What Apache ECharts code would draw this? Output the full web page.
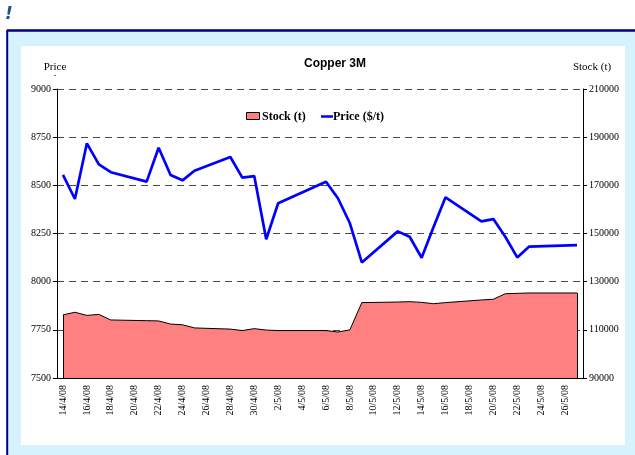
<!DOCTYPE html>
<html>
<head>
<meta charset="utf-8">
<script src="https://cdn.jsdelivr.net/npm/echarts@6/dist/echarts.min.js"></script>
<style>
  html, body { margin: 0; padding: 0; background: #fff; }
  #chartmain { width: 635px; height: 455px; }
</style>
</head>
<body>
<div id="chartmain"></div>
<script>
// dates, one per day (weekends / holidays carry no value)
var days = [
  '14/4/08', '15/4/08', '16/4/08', '17/4/08', '18/4/08', '19/4/08', '20/4/08',
  '21/4/08', '22/4/08', '23/4/08', '24/4/08', '25/4/08', '26/4/08', '27/4/08',
  '28/4/08', '29/4/08', '30/4/08', '1/5/08', '2/5/08', '3/5/08', '4/5/08',
  '5/5/08', '6/5/08', '7/5/08', '8/5/08', '9/5/08', '10/5/08', '11/5/08',
  '12/5/08', '13/5/08', '14/5/08', '15/5/08', '16/5/08', '17/5/08', '18/5/08',
  '19/5/08', '20/5/08', '21/5/08', '22/5/08', '23/5/08', '24/5/08', '25/5/08',
  '26/5/08', '27/5/08'
];
// price $/t
var price = [
  8554, 8429, 8718, 8609, 8568, null, null,
  8519, 8695, 8554, 8526, 8576, null, null,
  8647, 8540, 8548, 8220, 8407, null, null,
  null, 8519, 8433, 8303, 8100, null, null,
  8261, 8233, 8124, 8284, 8438, null, null,
  8313, 8325, 8233, 8126, 8182, null, null,
  null, 8190
];
// stock t
var stock = [
  116200, 117300, 116000, 116400, 114100, null, null,
  113800, 113700, 112400, 112100, 110800, null, null,
  110300, 109700, 110500, 109900, 109700, null, null,
  null, 109700, 109100, 110000, 121300, null, null,
  121550, 121700, 121400, 120850, 121300, null, null,
  122400, 122700, 125000, 125150, 125300, null, null,
  null, 125300
];
var priceTicks = [7500, 9000, 250];
var stockTicks = [90000, 210000, 20000];

var serif = 'Liberation Serif';
var last = days.length - 1;

var option = {
  backgroundColor: '#ffffff',
  animation: false,
  graphic: [
    { type: 'rect', shape: { x: 7, y: 30, width: 628, height: 425 }, style: { fill: '#d6f2fc' }, z: -10 },
    { type: 'line', shape: { x1: 7, y1: 30.5, x2: 635, y2: 30.5 }, style: { stroke: '#000080', lineWidth: 2.5 }, z: -9 },
    { type: 'line', shape: { x1: 7.2, y1: 30, x2: 7.2, y2: 455 }, style: { stroke: '#000080', lineWidth: 2 }, z: -9 },
    { type: 'rect', shape: { x: 21, y: 46, width: 604, height: 399 }, style: { fill: '#ffffff' }, z: -8 },
    { type: 'text', x: 5, y: 6, style: { text: '!', font: 'italic bold 17px "DejaVu Sans"', fill: '#1f4f96' } },
    { type: 'text', x: 335, y: 64, style: { text: 'Copper 3M', font: 'bold 12px "Liberation Sans"', fill: '#000', align: 'center', verticalAlign: 'middle' } },
    { type: 'text', x: 55, y: 67, style: { text: 'Price', font: '11px "Liberation Serif"', fill: '#000', align: 'center', verticalAlign: 'middle' } },
    { type: 'text', x: 55, y: 76, style: { text: '-', font: '8px "Liberation Serif"', fill: '#000', align: 'center', verticalAlign: 'middle' } },
    { type: 'text', x: 592, y: 67, style: { text: 'Stock (t)', font: '11px "Liberation Serif"', fill: '#000', align: 'center', verticalAlign: 'middle' } },
    // legend
    { type: 'rect', shape: { x: 246.5, y: 112.5, width: 13, height: 7 }, style: { fill: '#ff8080', stroke: '#000', lineWidth: 1 }, z: 10 },
    { type: 'text', x: 262, y: 117, style: { text: 'Stock (t)', font: 'bold 12px "Liberation Serif"', fill: '#000', verticalAlign: 'middle' }, z: 10 },
    { type: 'line', shape: { x1: 321, y1: 116.5, x2: 333, y2: 116.5 }, style: { stroke: '#0000ff', lineWidth: 2.5 }, z: 10 },
    { type: 'text', x: 333, y: 117, style: { text: 'Price ($/t)', font: 'bold 12px "Liberation Serif"', fill: '#000', verticalAlign: 'middle' }, z: 10 }
  ],
  grid: { left: 57, right: 52, top: 89, bottom: 77 },
  xAxis: {
    type: 'category',
    data: days,
    boundaryGap: true,
    axisLine: { lineStyle: { color: '#000', width: 1 } },
    axisTick: { interval: 1, length: 5, lineStyle: { color: '#000' } },
    axisLabel: { interval: 1, rotate: 90, margin: 7, fontFamily: serif, fontSize: 10, color: '#000' },
    splitLine: { show: false }
  },
  yAxis: [
    {
      type: 'value',
      min: priceTicks[0], max: priceTicks[1], interval: priceTicks[2],
      axisLine: { show: true, lineStyle: { color: '#000', width: 1 } },
      axisTick: { show: true, length: 4, lineStyle: { color: '#000' } },
      axisLabel: { margin: 6, fontFamily: serif, fontSize: 10, color: '#000', formatter: function (v) { return String(v); } },
      splitLine: { show: true, lineStyle: { color: '#4a4a4a', type: [7, 5], width: 1 } }
    },
    {
      type: 'value',
      min: stockTicks[0], max: stockTicks[1], interval: stockTicks[2],
      axisLine: { show: true, lineStyle: { color: '#000', width: 1 } },
      axisTick: { show: true, length: 4, lineStyle: { color: '#000' } },
      axisLabel: { margin: 6, fontFamily: serif, fontSize: 10, color: '#000', formatter: function (v) { return String(v); } },
      splitLine: { show: false }
    }
  ],
  series: [
    {
      name: 'Stock (t)',
      type: 'line',
      yAxisIndex: 1,
      data: stock,
      connectNulls: true,
      symbol: 'none',
      color: '#ff8080',
      lineStyle: { color: '#000', width: 1 },
      areaStyle: { color: '#ff8080', opacity: 1, origin: 'start' },
      // close the area's two ends with black edges
      markLine: {
        silent: true,
        symbol: 'none',
        label: { show: false },
        lineStyle: { color: '#000', width: 1, type: 'solid' },
        data: [
          [{ coord: [days[0], stockTicks[0]] }, { coord: [days[0], stock[0]] }],
          [{ coord: [days[last], stockTicks[0]] }, { coord: [days[last], stock[last]] }]
        ]
      },
      z: 2
    },
    {
      name: 'Price ($/t)',
      type: 'line',
      yAxisIndex: 0,
      data: price,
      connectNulls: true,
      symbol: 'none',
      color: '#0000ff',
      lineStyle: { color: '#0000ff', width: 2.7 },
      z: 3
    }
  ]
};

var myChart = echarts.init(document.getElementById('chartmain'));
myChart.setOption(option);
</script>
</body>
</html>
